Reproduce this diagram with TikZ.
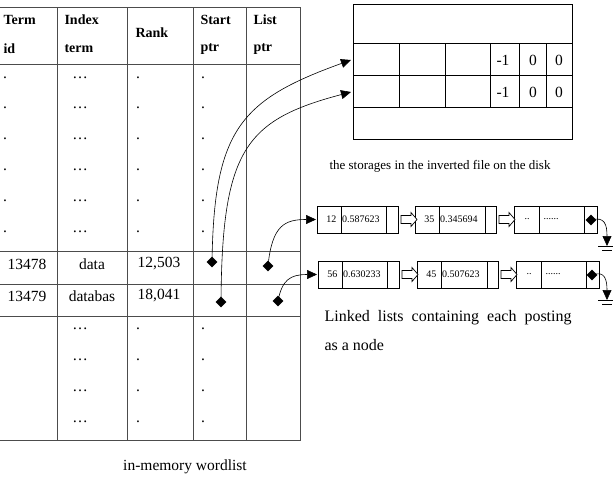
\documentclass[tikz,border=0pt]{standalone}
\usepackage{fontspec}
\setmainfont{Liberation Serif}
\usetikzlibrary{arrows.meta,shapes.geometric}
\begin{document}
\begin{tikzpicture}[x=1pt,y=-1pt,
  grid/.style={draw=black!70,line width=0.8pt},
  ptr/.style={-{Triangle[length=10pt,width=9pt]},line width=0.6pt},
  dia/.style={diamond,fill=black,inner sep=0pt,minimum size=11pt},
  cell/.style={font=\fontsize{15.5}{17}\selectfont},
  hd/.style={font=\fontsize{14}{16}\selectfont\bfseries,align=left,anchor=west},
  sm/.style={font=\fontsize{10}{11}\selectfont},
  hol/.style={draw,line width=0.7pt,fill=white}]
\useasboundingbox (0,0) rectangle (613,493);
% table
\draw[grid] (0,7) -- (300,7) -- (300,440) -- (0,440);
\foreach \x in {57,127,193,246} \draw[grid] (\x,7) -- (\x,440);
\foreach \y in {64,251,284,316} \draw[grid] (0,\y) -- (300,\y);
\node[hd] at (0,20) {Term}; \node[hd] at (0,49) {id};
\node[hd] at (61,20) {Index}; \node[hd] at (61,49) {term};
\node[hd] at (132,33) {Rank};
\node[hd] at (197,20) {Start}; \node[hd] at (197,49) {ptr};
\node[hd] at (250,20) {List}; \node[hd] at (250,49) {ptr};
\foreach \y in {78,108,139,170,201,232}{
  \node[cell] at (5,\y) {.}; \node[cell] at (80,\y) {\dots};
  \node[cell] at (138,\y) {.}; \node[cell] at (203,\y) {.};}
\foreach \y in {329,360,391,422}{
  \node[cell] at (80,\y) {\dots};
  \node[cell] at (138,\y) {.}; \node[cell] at (203,\y) {.};}
\node[cell] at (27,264) {13478}; \node[cell] at (92,264) {data}; \node[cell] at (159,264) {12,503};
\node[cell] at (27,296) {13479}; \node[cell] at (92,296) {databas}; \node[cell] at (159,296) {18,041};
\node[cell] (cap1) at (185,467) {in-memory wordlist};
% disk
\draw[line width=0.8pt] (353,4) rectangle (572,139);
\foreach \y in {43,75,107} \draw[line width=0.8pt] (353,\y) -- (572,\y);
\foreach \x in {399,445,490,519,546} \draw[line width=0.8pt] (\x,43) -- (\x,107);
\foreach \y in {60,92}{\node[cell] at (503,\y) {-1}; \node[cell] at (533,\y) {0}; \node[cell] at (559,\y) {0};}
\coordinate (d1) at (351,60); \coordinate (d2) at (351,92);
\node[font=\fontsize{13}{15}\selectfont] (cap2) at (440,166) {the storages in the inverted file on the disk};
% diamonds
\node[dia] (s1) at (212,262) {}; \node[dia] (s2) at (221,302) {};
\node[dia] (l1) at (268,266) {}; \node[dia] (l2) at (278,301) {};
\draw[ptr] (s1.center) .. controls (214,130) and (240,100) .. (d1);
\draw[ptr] (s2.center) .. controls (222,150) and (245,120) .. (d2);
% linked lists
\foreach \r/\y/\xa/\xb/\xc/\na/\va/\nb/\vb in {1/206/317/415/514/12/0.587623/35/0.345694, 2/261/318/417/516/56/0.630233/45/0.507623}{
  \draw[line width=0.7pt] (\xa,\y) rectangle ++(81,27);
  \draw[line width=0.7pt] (\xa+24,\y) -- ++(0,27) (\xa+69,\y) -- ++(0,27);
  \node[sm,anchor=east] at (\xa+23,\y+13.5) {\na};
  \node[sm,anchor=west,inner sep=1pt] at (\xa+24,\y+13.5) {\va};
  \draw[line width=0.7pt] (\xb,\y) rectangle ++(81,27);
  \draw[line width=0.7pt] (\xb+24,\y) -- ++(0,27) (\xb+70,\y) -- ++(0,27);
  \node[sm,anchor=east] at (\xb+23,\y+13.5) {\nb};
  \node[sm,anchor=west,inner sep=1pt] at (\xb+24,\y+13.5) {\vb};
  \draw[line width=0.7pt] (\xc,\y) rectangle ++(83,27);
  \draw[line width=0.7pt] (\xc+25,\y) -- ++(0,27) (\xc+70,\y) -- ++(0,27);
  \node[sm] at (\xc+13,\y+13.5) {..};
  \node[sm,anchor=west] at (\xc+26,\y+13.5) {......};
  \foreach \s in {\xa,\xb}{
    \draw[hol] (\s+84,\y+9.5) -- (\s+94,\y+9.5) -- (\s+94,\y+6.5) -- (\s+100,\y+13.5)
      -- (\s+94,\y+20.5) -- (\s+94,\y+17.5) -- (\s+84,\y+17.5) -- cycle;}
}
\coordinate (L1) at (316,219.5); \coordinate (L2) at (317,274.5);
\draw[ptr] (l1.center) .. controls (272,225) and (285,219.5) .. (L1);
\draw[ptr] (l2.center) .. controls (282,280) and (290,274.5) .. (L2);
\node[dia] (e1) at (591,220) {}; \node[dia] (e2) at (592,275) {};
\coordinate (g1) at (607,246); \coordinate (g2) at (607,300);
\draw[ptr] (e1.center) .. controls (605,216) and (607,225) .. (g1);
\draw[ptr] (e2.center) .. controls (605,270) and (607,280) .. (g2);
\foreach \g in {g1,g2}{
  \draw[line width=0.7pt] ([xshift=-9pt]\g) -- ([xshift=9pt]\g);
  \draw[line width=0.7pt] ([xshift=-5pt,yshift=-4pt]\g) -- ([xshift=5pt,yshift=-4pt]\g);}
\node[font=\fontsize{16}{29}\selectfont,align=left,anchor=north west] (txt) at (321,307)
  {Linked\ \ lists\ \ containing\ \ each\ \ posting\\as a node};
\end{tikzpicture}
\end{document}
